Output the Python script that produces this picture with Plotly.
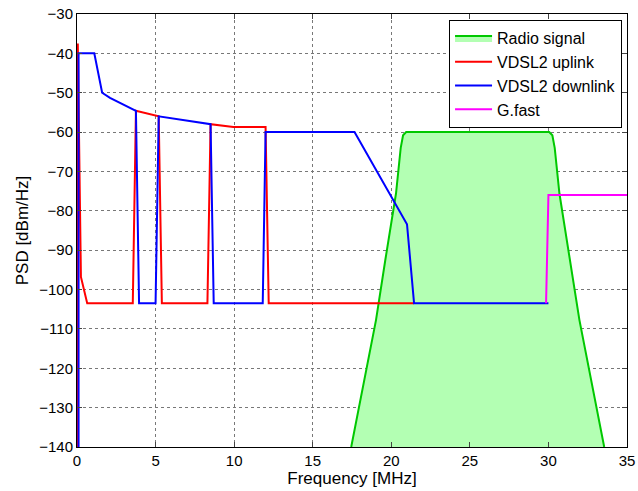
import plotly.graph_objects as go

# Radio signal (filled to -140)
radio_f = [17.45, 19.03, 19.62, 20.3, 20.6, 20.75, 20.95, 30.05, 30.25, 30.4, 30.7, 31.38, 31.97, 33.55]
radio_p = [-140, -107.7, -92.5, -75.6, -64, -60.8, -60, -60, -60.8, -64, -75.6, -92.5, -107.7, -140]

# VDSL2 uplink
up_f = [0.03, 0.05, 0.25, 0.65, 3.55, 3.75, 5.2, 5.4, 8.3, 8.5, 9.95, 12.0, 12.2, 21.45]
up_p = [-140, -37.5, -96.8, -103.5, -103.5, -54.6, -56.0, -103.5, -103.5, -58.0, -58.7, -58.7, -103.5, -103.5]

# VDSL2 downlink
dn_f = [0.1, 0.1, 1.1, 1.6, 2.1, 2.95, 3.75, 3.95, 5.0, 5.2, 8.5, 8.7, 11.82, 12.0, 17.66, 21.0, 21.45, 30.0]
dn_p = [-140, -40, -40, -50, -51.3, -52.9, -54.6, -103.5, -103.5, -56.0, -58.0, -103.5, -103.5, -60, -60, -83.4, -103.5, -103.5]

# G.fast
gf_f = [29.85, 30.0, 35.0]
gf_p = [-103.5, -76, -76]

x_ticks = [0, 5, 10, 15, 20, 25, 30, 35]
y_ticks = [-30, -40, -50, -60, -70, -80, -90, -100, -110, -120, -130, -140]

fig = go.Figure()
fig.add_trace(go.Scatter(x=radio_f, y=radio_p, mode="lines", fill="toself",
                         fillcolor="rgb(179,255,179)", line=dict(color="rgb(0,200,0)", width=2),
                         name="Radio signal"))
fig.add_trace(go.Scatter(x=up_f, y=up_p, mode="lines", line=dict(color="#ff0000", width=2),
                         name="VDSL2 uplink"))
fig.add_trace(go.Scatter(x=dn_f, y=dn_p, mode="lines", line=dict(color="#0000ff", width=2),
                         name="VDSL2 downlink"))
fig.add_trace(go.Scatter(x=gf_f, y=gf_p, mode="lines", line=dict(color="#ff00ff", width=2),
                         name="G.fast"))

fam = "Liberation Sans, Arial, sans-serif"
fig.update_layout(
    width=638, height=491,
    margin=dict(l=77, r=11, t=14, b=44, autoexpand=False),
    paper_bgcolor="white", plot_bgcolor="white",
    font=dict(family=fam, size=14, color="black"),
    showlegend=True,
    legend=dict(x=0.991, y=0.986, xanchor="right", yanchor="top",
                bgcolor="white", bordercolor="black", borderwidth=1,
                font=dict(family=fam, size=16),
                itemwidth=37, tracegroupgap=0),
    xaxis=dict(range=[0, 35], tickvals=x_ticks, ticks="inside", ticklen=5,
               showline=True, linecolor="black", linewidth=1, mirror="allticks",
               showgrid=True, gridcolor="rgb(120,120,120)", griddash="dot", gridwidth=1,
               zeroline=False, automargin=False,
               title=dict(text="Frequency [MHz]", standoff=3, font=dict(size=17)),
               tickfont=dict(size=15)),
    yaxis=dict(range=[-140, -30], tickvals=y_ticks, ticks="inside", ticklen=5,
               showline=True, linecolor="black", linewidth=1, mirror="allticks",
               showgrid=True, gridcolor="rgb(120,120,120)", griddash="dot", gridwidth=1,
               zeroline=False, automargin=False,
               title=dict(text="PSD [dBm/Hz]", standoff=6, font=dict(size=17)),
               tickfont=dict(size=15)),
)
fig.write_html("out.html", config={"displayModeBar": False},
               post_script="document.body.style.margin='0px';document.body.style.padding='0px';")
